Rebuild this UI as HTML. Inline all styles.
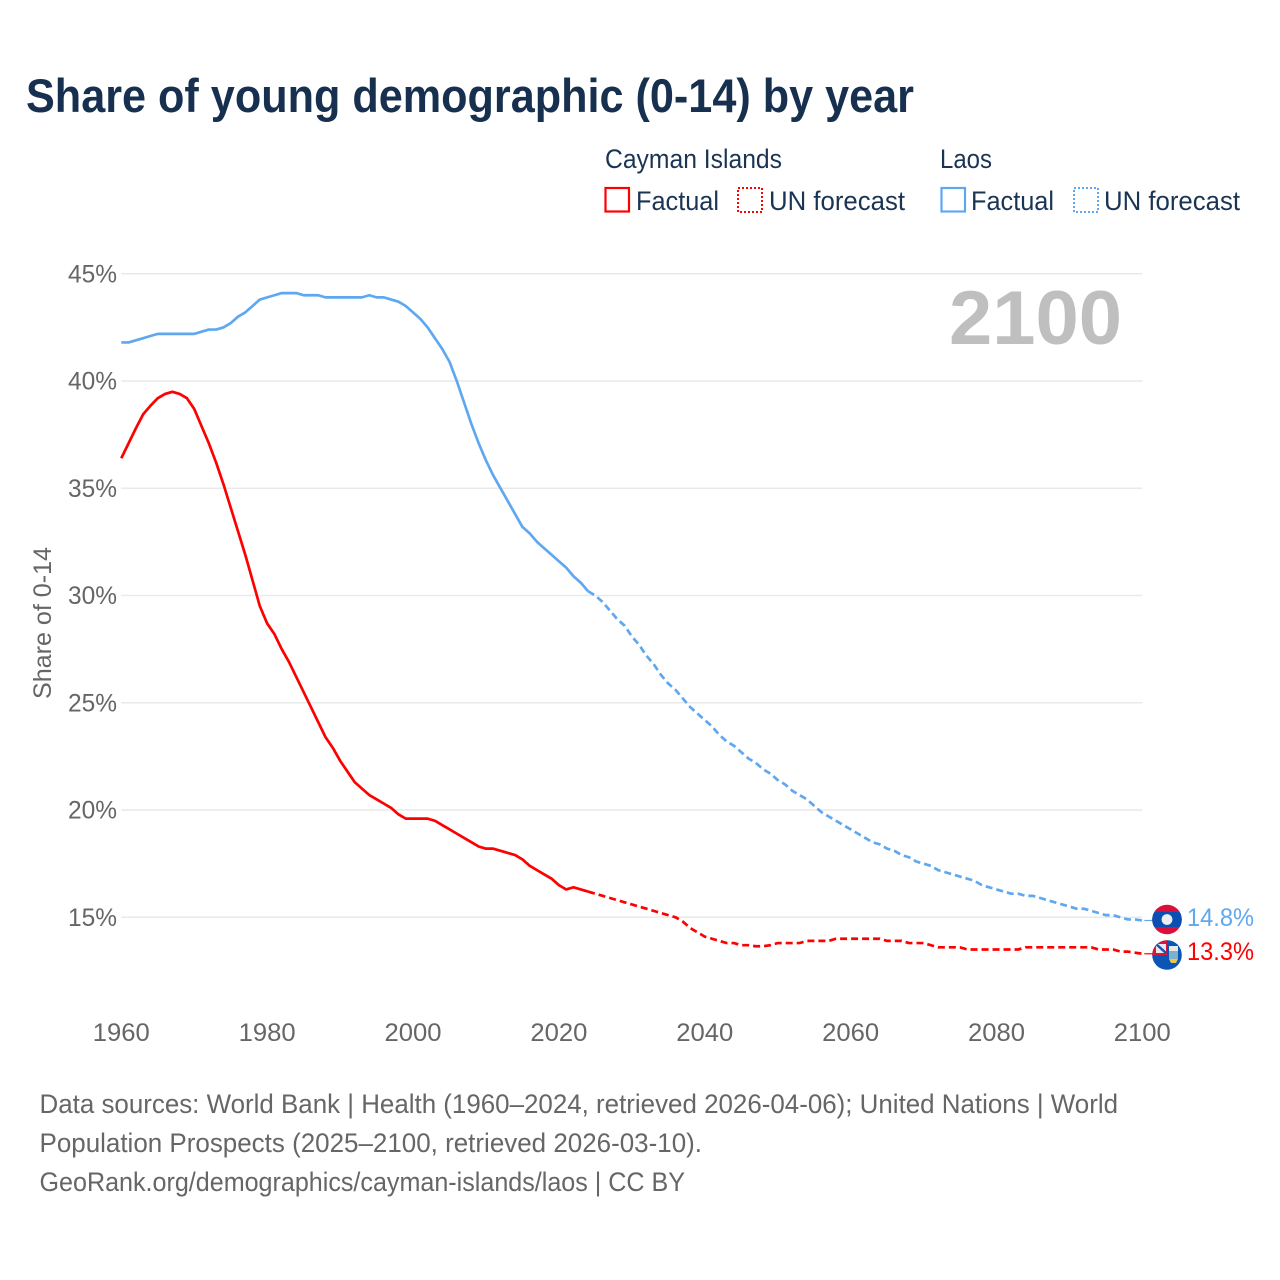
<!DOCTYPE html>
<html lang="en">
<head>
<meta charset="utf-8">
<title>Share of young demographic (0-14) by year</title>
<style>
html,body{margin:0;padding:0;background:#fff;width:1280px;height:1280px;overflow:hidden}
svg{display:block}
text{font-family:"Liberation Sans",sans-serif}
</style>
</head>
<body>
<svg id="chart" xmlns="http://www.w3.org/2000/svg" width="1280" height="1280" viewBox="0 0 1280 1280">
  <rect width="1280" height="1280" fill="#fff"/>
  <text x="26" y="112" font-size="47" font-weight="700" fill="#17304f" textLength="888" lengthAdjust="spacingAndGlyphs">Share of young demographic (0-14) by year</text>

  <g font-size="27" fill="#1a3454">
    <text x="605" y="168" textLength="177" lengthAdjust="spacingAndGlyphs">Cayman Islands</text>
    <text x="940" y="168" textLength="52" lengthAdjust="spacingAndGlyphs">Laos</text>
    <g>
      <rect x="605.5" y="188" width="23.5" height="23.5" fill="none" stroke="#ff0000" stroke-width="2.2"/>
      <text x="636" y="210" textLength="83" lengthAdjust="spacingAndGlyphs">Factual</text>
    </g>
    <g>
      <rect x="738" y="188" width="24" height="24" fill="none" stroke="#ff0000" stroke-width="2" stroke-dasharray="2 2"/>
      <text x="769" y="210" textLength="136" lengthAdjust="spacingAndGlyphs">UN forecast</text>
    </g>
    <g>
      <rect x="941.5" y="188" width="23.5" height="23.5" fill="none" stroke="#5fa8ef" stroke-width="2.2"/>
      <text x="971" y="210" textLength="83" lengthAdjust="spacingAndGlyphs">Factual</text>
    </g>
    <g>
      <rect x="1074" y="188" width="24" height="24" fill="none" stroke="#5fa8ef" stroke-width="2" stroke-dasharray="2 2"/>
      <text x="1104" y="210" textLength="136" lengthAdjust="spacingAndGlyphs">UN forecast</text>
    </g>
  </g>

  <g id="grid"></g>
  <text x="949" y="344" font-size="76" font-weight="700" fill="#bfbfbf" textLength="173" lengthAdjust="spacingAndGlyphs">2100</text>
  <g id="yticks" font-size="25" fill="#666"></g>
  <g id="xticks" font-size="25" fill="#666"></g>
  <text transform="translate(51,699) rotate(-90)" font-size="25" fill="#666" textLength="152" lengthAdjust="spacingAndGlyphs">Share of 0-14</text>
  <g id="series"></g>

  <defs>
    <clipPath id="clip-laos"><circle cx="1167" cy="919.5" r="14.8"/></clipPath>
    <clipPath id="clip-cayman"><circle cx="1167" cy="955" r="14.8"/></clipPath>
  </defs>
  <g clip-path="url(#clip-cayman)">
    <rect x="1152" y="940" width="30" height="30" fill="#0b55b5"/>
    <rect x="1152" y="940" width="15" height="15" fill="#d8143a"/>
    <rect x="1156" y="944" width="10" height="9" fill="#e8e8f0"/>
    <path d="M1156 944L1166 953" stroke="#1f4fa8" stroke-width="2.5"/>
    <rect x="1167" y="940" width="15" height="5" fill="#0b55b5"/>
    <rect x="1169" y="946" width="9" height="5" fill="#e8e8e8"/>
    <rect x="1169" y="951" width="9" height="8" fill="#7fb0c8"/>
    <path d="M1169 959h9l-2 4h-5z" fill="#e8c84a"/>
  </g>
  <g clip-path="url(#clip-laos)">
    <rect x="1152" y="904" width="30" height="31" fill="#d9103c"/>
    <rect x="1152" y="912" width="30" height="15" fill="#0b4fb3"/>
    <circle cx="1167" cy="919.5" r="5.4" fill="#eeeeee"/>
  </g>
  <text x="1187" y="926" font-size="25" fill="#5fa8ef" textLength="67" lengthAdjust="spacingAndGlyphs">14.8%</text>
  <text x="1187" y="960" font-size="25" fill="#ff0000" textLength="67" lengthAdjust="spacingAndGlyphs">13.3%</text>

  <g font-size="27" fill="#666">
    <text x="39.5" y="1113" textLength="1078.5" lengthAdjust="spacingAndGlyphs">Data sources: World Bank | Health (1960–2024, retrieved 2026-04-06); United Nations | World</text>
    <text x="39.5" y="1152" textLength="662.5" lengthAdjust="spacingAndGlyphs">Population Prospects (2025–2100, retrieved 2026-03-10).</text>
    <text x="39.5" y="1191" textLength="645.5" lengthAdjust="spacingAndGlyphs">GeoRank.org/demographics/cayman-islands/laos | CC BY</text>
  </g>
</svg>
<script>
const startYear = 1960;
const lastFactualYear = 2024;
const yTickValues = [15, 20, 25, 30, 35, 40, 45];
const xTickYears = [1960, 1980, 2000, 2020, 2040, 2060, 2080, 2100];
const laosShare = [
41.8,41.8,41.9,42.0,42.1,42.2,42.2,42.2,42.2,42.2,
42.2,42.3,42.4,42.4,42.5,42.7,43.0,43.2,43.5,43.8,
43.9,44.0,44.1,44.1,44.1,44.0,44.0,44.0,43.9,43.9,
43.9,43.9,43.9,43.9,44.0,43.9,43.9,43.8,43.7,43.5,
43.2,42.9,42.5,42.0,41.5,40.9,40.0,39.0,38.0,37.1,
36.3,35.6,35.0,34.4,33.8,33.2,32.9,32.5,32.2,31.9,
31.6,31.3,30.9,30.6,30.2,30.0,29.7,29.3,28.9,28.6,
28.1,27.7,27.2,26.8,26.3,25.9,25.6,25.2,24.8,24.5,
24.2,23.9,23.5,23.2,23.0,22.7,22.4,22.2,21.9,21.7,
21.4,21.2,20.9,20.7,20.5,20.2,19.9,19.7,19.5,19.3,
19.1,18.9,18.7,18.5,18.4,18.2,18.1,17.9,17.8,17.6,
17.5,17.4,17.2,17.1,17.0,16.9,16.8,16.7,16.5,16.4,
16.3,16.2,16.1,16.1,16.0,16.0,15.9,15.8,15.7,15.6,
15.5,15.4,15.4,15.3,15.2,15.1,15.1,15.0,14.9,14.9,14.85
];
const caymanShare = [
36.4,37.1,37.8,38.45,38.85,39.2,39.4,39.5,39.4,39.2,
38.7,37.9,37.1,36.2,35.2,34.1,33.0,31.9,30.7,29.5,
28.7,28.2,27.5,26.9,26.2,25.5,24.8,24.1,23.4,22.9,
22.3,21.8,21.3,21.0,20.7,20.5,20.3,20.1,19.8,19.6,
19.6,19.6,19.6,19.5,19.3,19.1,18.9,18.7,18.5,18.3,
18.2,18.2,18.1,18.0,17.9,17.7,17.4,17.2,17.0,16.8,
16.5,16.3,16.4,16.3,16.2,16.1,16.0,15.9,15.8,15.7,
15.6,15.5,15.4,15.3,15.2,15.1,15.0,14.8,14.5,14.3,
14.1,14.0,13.9,13.8,13.8,13.7,13.7,13.65,13.65,13.7,
13.8,13.8,13.8,13.8,13.9,13.9,13.9,13.9,14.0,14.0,
14.0,14.0,14.0,14.0,14.0,13.9,13.9,13.9,13.8,13.8,
13.8,13.7,13.6,13.6,13.6,13.6,13.5,13.5,13.5,13.5,
13.5,13.5,13.5,13.5,13.6,13.6,13.6,13.6,13.6,13.6,
13.6,13.6,13.6,13.6,13.5,13.5,13.5,13.4,13.4,13.35,13.3
];

const xScale = function (year) { return 121.3 + (year - 1960) * 7.293; };
const yScale = function (value) { return 917.3 - (value - 15) * 21.45; };
const NS = 'http://www.w3.org/2000/svg';
const gridGroup = document.getElementById('grid');
const yTickGroup = document.getElementById('yticks');
const xTickGroup = document.getElementById('xticks');
const seriesGroup = document.getElementById('series');

yTickValues.forEach(function (v) {
  const line = document.createElementNS(NS, 'line');
  
  
  line.setAttribute('x1', xScale(1960));
  line.setAttribute('x2', xScale(2100));
  line.setAttribute('y1', yScale(v));
  line.setAttribute('y2', yScale(v));
  line.setAttribute('stroke', '#e9e9e9');
  line.setAttribute('stroke-width', '1.5');
  gridGroup.appendChild(line);

  const label = document.createElementNS(NS, 'text');
  
  
  label.setAttribute('x', 68);
  label.setAttribute('y', yScale(v) + 8.5);
  label.setAttribute('textLength', 49);
  label.setAttribute('lengthAdjust', 'spacingAndGlyphs');
  label.textContent = v + '%';
  yTickGroup.appendChild(label);
});

xTickYears.forEach(function (year) {
  const label = document.createElementNS(NS, 'text');
  
  
  label.setAttribute('x', xScale(year) - 28.5);
  label.setAttribute('y', 1041);
  label.setAttribute('textLength', 57);
  label.setAttribute('lengthAdjust', 'spacingAndGlyphs');
  label.textContent = year;
  xTickGroup.appendChild(label);
});

function buildPoints(values, from, to) {
  const pts = [];
  values.forEach(function (v, i) {
    const year = startYear + i;
    if (year >= from && year <= to) pts.push(xScale(year).toFixed(2) + ',' + yScale(v).toFixed(2));
  });
  return pts.join(' ');
}

function drawSeries(key, values, color) {
  const endYear = startYear + values.length - 1;

  const factual = document.createElementNS(NS, 'polyline');
  
  
  factual.setAttribute('points', buildPoints(values, startYear, lastFactualYear));
  factual.setAttribute('fill', 'none');
  factual.setAttribute('stroke', color);
  factual.setAttribute('stroke-width', '2.7');
  factual.setAttribute('stroke-linejoin', 'round');
  seriesGroup.appendChild(factual);

  const forecast = document.createElementNS(NS, 'polyline');
  
  
  forecast.setAttribute('points', buildPoints(values, lastFactualYear, endYear));
  forecast.setAttribute('fill', 'none');
  forecast.setAttribute('stroke', color);
  forecast.setAttribute('stroke-width', '2.7');
  forecast.setAttribute('stroke-dasharray', '7 4');
  seriesGroup.appendChild(forecast);

  const connector = document.createElementNS(NS, 'line');
  
  
  connector.setAttribute('x1', xScale(endYear) + 2);
  connector.setAttribute('x2', xScale(endYear) + 12);
  connector.setAttribute('y1', yScale(values[values.length - 1]));
  connector.setAttribute('y2', yScale(values[values.length - 1]));
  connector.setAttribute('stroke', color);
  connector.setAttribute('stroke-width', '1.2');
  seriesGroup.appendChild(connector);
}

drawSeries('laos', laosShare, '#5fa8ef');
drawSeries('cayman-islands', caymanShare, '#ff0000');
</script>
</body>
</html>
